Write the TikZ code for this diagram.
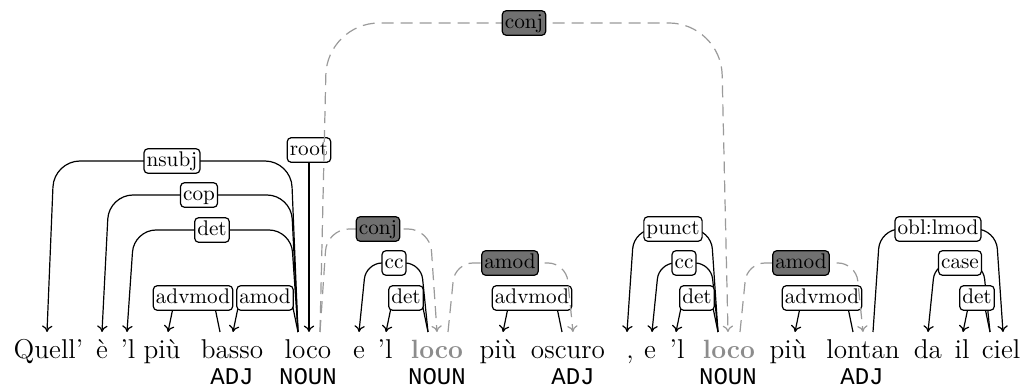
\documentclass[tikz,border=0pt]{standalone}
\usepackage{fontspec}
\newfontfamily\posfont{Liberation Mono}
\usetikzlibrary{calc,arrows.meta,backgrounds}
\pgfdeclarelayer{fg}
\pgfsetlayers{background,main,fg}
\definecolor{edgegray}{HTML}{9A9A9A}
\definecolor{darkfill}{HTML}{707070}
\definecolor{wordgray}{HTML}{8C8C8C}
\newcommand\depedge[5]{%
  \draw[#1, rounded corners=#5] (#2) -- ($(#2 |- #4)!3.5pt!(#3 |- #4)$) -- ($(#3 |- #4)!3.5pt!(#2 |- #4)$) -- (#3);}
\begin{document}
\begin{tikzpicture}[x=0.5pt,y=-0.5pt,
  word/.style={anchor=base, inner sep=0pt, font=\fontsize{13.6}{16}\selectfont},
  gword/.style={anchor=base, inner sep=0pt, font=\fontsize{13.2}{16}\selectfont\bfseries, text=wordgray},
  postag/.style={anchor=base, inner sep=0pt, font=\fontsize{12}{14}\selectfont\posfont},
  lab/.style={draw, fill=white, rounded corners=2pt, inner sep=1.3pt, text height=7.4pt, text depth=2.3pt, font=\fontsize{10.6}{12}\selectfont, line width=0.6pt},
  dlab/.style={lab, fill=darkfill},
  dep/.style={draw=black, line width=0.6pt, -{To[length=3.2pt,width=5.2pt]}},
  edep/.style={draw=edgegray, line width=0.6pt, dash pattern=on 6pt off 3.5pt, -{To[length=3.2pt,width=5.2pt]}}]
\useasboundingbox (0,0) rectangle (1025,390);
% words
\node[word] (w1) at (48.5,358) {Quell’};
\node[word] (w2) at (102,358) {è};
\node[word] (w3) at (128,358) {’l};
\node[word] (w4) at (162,358) {più};
\node[word] (w5) at (232,358) {basso};
\node[word] (w6) at (308,358) {loco};
\node[word] (w7) at (359,358) {e};
\node[word] (w8) at (385,358) {’l};
\node[gword] (w9) at (437,358) {loco};
\node[word] (w10) at (498,358) {più};
\node[word] (w11) at (568,358) {oscuro};
\node[word] (w12) at (630,358) {,};
\node[word] (w13) at (650,358) {e};
\node[word] (w14) at (677,358) {’l};
\node[gword] (w15) at (729,358) {loco};
\node[word] (w16) at (788,358) {più};
\node[word] (w17) at (863,358) {lontan};
\node[word] (w18) at (928,358) {da};
\node[word] (w19) at (962,358) {il};
\node[word] (w20) at (1001,358) {ciel};
% POS tags
\node[postag] (t5) at (232,385) {ADJ};
\node[postag] (t6) at (308,385) {NOUN};
\node[postag] (t9) at (437,385) {NOUN};
\node[postag] (t11) at (573,385) {ADJ};
\node[postag] (t15) at (728,385) {NOUN};
\node[postag] (t17) at (862,385) {ADJ};
% anchors
\coordinate (qa) at (47,332);
\coordinate (ea) at (102,332);
\coordinate (la) at (127,332);
\coordinate (pa) at (168,332);
\coordinate (bh) at (220,332);
\coordinate (bd) at (233,332);
\coordinate (lh) at (298,332);
\coordinate (lr) at (309,332);
\coordinate (le) at (320,332);
\coordinate (e2a) at (359,332);
\coordinate (l2a) at (386,332);
\coordinate (mh) at (428,332);
\coordinate (md) at (437,332);
\coordinate (me) at (448,332);
\coordinate (p2a) at (503,332);
\coordinate (oh) at (562,332);
\coordinate (od) at (573,332);
\coordinate (ca) at (627,332);
\coordinate (e3a) at (652,332);
\coordinate (l3a) at (676,332);
\coordinate (nh) at (718,332);
\coordinate (nd) at (728,332);
\coordinate (ne) at (740,332);
\coordinate (p3a) at (795,332);
\coordinate (th) at (853,332);
\coordinate (td) at (863,332);
\coordinate (tl) at (873,332);
\coordinate (daa) at (928,332);
\coordinate (ia) at (963,332);
\coordinate (ch) at (990,332);
\coordinate (cd) at (1003,332);
% white labels
\node[lab] (nsubj) at (172,161) {nsubj};
\node[lab] (cop) at (199,195) {cop};
\node[lab] (det1) at (212,230) {det};
\node[lab] (advmod1) at (193,298) {advmod};
\node[lab] (amod1) at (265,298) {amod};
\node[lab] (root) at (309,150) {root};
\node[lab] (cc1) at (394,263) {cc};
\node[lab] (det2) at (406,298) {det};
\node[lab] (advmod2) at (532,298) {advmod};
\node[lab] (punct) at (673,229) {punct};
\node[lab] (cc2) at (684,263) {cc};
\node[lab] (det3) at (697,298) {det};
\node[lab] (advmod3) at (822,298) {advmod};
\node[lab] (obl) at (938,229) {obl:lmod};
\node[lab] (case) at (960,263) {case};
\node[lab] (det4) at (977,298) {det};
% dark labels (on top)
\begin{pgfonlayer}{fg}
\node[dlab] (conjA) at (524,23) {conj};
\node[dlab] (conjB) at (378,229) {conj};
\node[dlab] (amodB) at (510,263) {amod};
\node[dlab] (amodC) at (801,263) {amod};
\end{pgfonlayer}
% solid edges
\begin{pgfonlayer}{background}
\depedge{dep}{lh}{qa}{nsubj}{13pt}
\depedge{dep}{lh}{ea}{cop}{12pt}
\depedge{dep}{lh}{la}{det1}{11pt}
\depedge{dep}{bh}{pa}{advmod1}{3pt}
\depedge{dep}{lh}{bd}{amod1}{3pt}
\draw[dep] (root) -- (lr);
\depedge{dep}{mh}{e2a}{cc1}{8pt}
\depedge{dep}{mh}{l2a}{det2}{3pt}
\depedge{dep}{oh}{p2a}{advmod2}{3pt}
\depedge{dep}{nh}{ca}{punct}{10pt}
\depedge{dep}{nh}{e3a}{cc2}{8pt}
\depedge{dep}{nh}{l3a}{det3}{3pt}
\depedge{dep}{th}{p3a}{advmod3}{3pt}
\depedge{dep}{tl}{cd}{obl}{10pt}
\depedge{dep}{ch}{daa}{case}{8pt}
\depedge{dep}{ch}{ia}{det4}{3pt}
\end{pgfonlayer}
% enhanced (dashed) edges
\depedge{edep}{le}{nd}{conjA}{26pt}
\depedge{edep}{le}{md}{conjB}{11pt}
\depedge{edep}{me}{od}{amodB}{9pt}
\depedge{edep}{ne}{td}{amodC}{9pt}
\end{tikzpicture}
\end{document}
